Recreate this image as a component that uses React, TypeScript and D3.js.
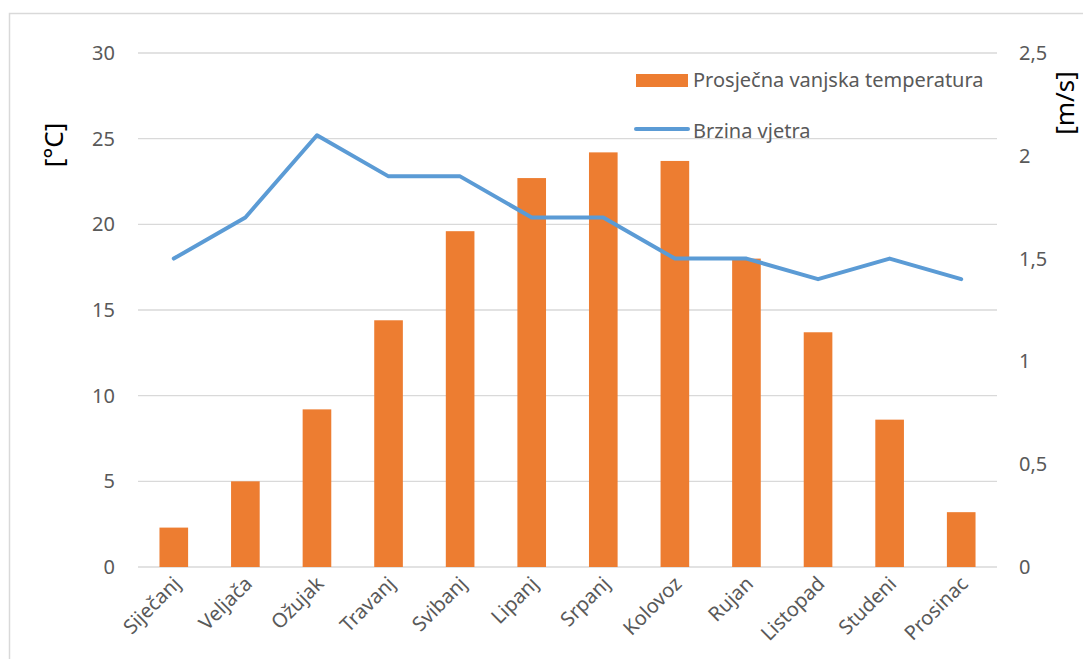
import React, { useEffect, useRef } from 'react';
import * as d3 from 'd3';

const months = ['Siječanj', 'Veljača', 'Ožujak', 'Travanj', 'Svibanj', 'Lipanj', 'Srpanj', 'Kolovoz', 'Rujan', 'Listopad', 'Studeni', 'Prosinac'];
const temperature = [2.3, 5.0, 9.2, 14.4, 19.6, 22.7, 24.2, 23.7, 18.0, 13.7, 8.6, 3.2];
const windSpeed = [1.5, 1.7, 2.1, 1.9, 1.9, 1.7, 1.7, 1.5, 1.5, 1.4, 1.5, 1.4];
const leftTicks = [0, 5, 10, 15, 20, 25, 30];
const rightTicks = [0, 0.5, 1, 1.5, 2, 2.5];

const App = () => {
    const ref = useRef<SVGSVGElement>(null);

    useEffect(() => {
        if (!ref.current) return;
        const width = 1083, height = 659;
        const plot = { left: 138, right: 997, top: 53, bottom: 567 };
        const font = "'Noto Sans', sans-serif";
        const fs = 20;

        const svg = d3.select(ref.current);
        svg.selectAll('*').remove();
        svg.attr('width', width).attr('height', height);

        svg.append('rect').attr('width', width).attr('height', height).attr('fill', '#fff');
        // chart border
        svg.append('rect')
            .attr('x', 9.5).attr('y', 13.5)
            .attr('width', width + 20).attr('height', height + 20)
            .attr('fill', 'none').attr('stroke', '#d9d9d9').attr('stroke-width', 1.5);

        const x = d3.scaleBand<string>()
            .domain(months)
            .range([plot.left, plot.right])
            .paddingInner(0.6)
            .paddingOuter(0.3);

        const yL = d3.scaleLinear().domain([0, 30]).range([plot.bottom, plot.top]);
        const yR = d3.scaleLinear().domain([0, 2.5]).range([plot.bottom, plot.top]);

        // gridlines
        svg.append('g').selectAll('line')
            .data(leftTicks)
            .enter().append('line')
            .attr('x1', plot.left).attr('x2', plot.right)
            .attr('y1', d => yL(d)).attr('y2', d => yL(d))
            .attr('stroke', '#d9d9d9').attr('stroke-width', 1.3);

        // left tick labels
        svg.append('g').selectAll('text')
            .data(leftTicks)
            .enter().append('text')
            .attr('x', 115).attr('y', d => yL(d))
            .attr('dy', '0.35em')
            .attr('text-anchor', 'end')
            .attr('font-family', font).attr('font-size', fs).attr('fill', '#595959')
            .text(d => d);

        // right tick labels
        svg.append('g').selectAll('text')
            .data(rightTicks)
            .enter().append('text')
            .attr('x', 1019).attr('y', d => yR(d))
            .attr('dy', '0.35em')
            .attr('text-anchor', 'start')
            .attr('font-family', font).attr('font-size', fs).attr('fill', '#595959')
            .text(d => String(d).replace('.', ','));

        // axis titles
        svg.append('text')
            .attr('transform', 'translate(63,145) rotate(-90)')
            .attr('text-anchor', 'middle')
            .attr('font-family', font).attr('font-size', 26).attr('fill', '#000')
            .text('[°C]');

        svg.append('text')
            .attr('transform', 'translate(1074,103) rotate(-90)')
            .attr('text-anchor', 'middle')
            .attr('font-family', font).attr('font-size', 26).attr('fill', '#000')
            .text('[m/s]');

        // bars
        svg.append('g').selectAll('rect')
            .data(temperature)
            .enter().append('rect')
            .attr('x', (d, i) => x(months[i])!)
            .attr('y', d => yL(d))
            .attr('width', x.bandwidth())
            .attr('height', d => plot.bottom - yL(d))
            .attr('fill', '#ED7D31');

        // wind line
        const line = d3.line<number>()
            .x((d, i) => x(months[i])! + x.bandwidth() / 2)
            .y(d => yR(d));

        svg.append('path')
            .datum(windSpeed)
            .attr('d', line)
            .attr('fill', 'none')
            .attr('stroke', '#5B9BD5')
            .attr('stroke-width', 4)
            .attr('stroke-linecap', 'round')
            .attr('stroke-linejoin', 'round');

        // month labels
        svg.append('g').selectAll('text')
            .data(months)
            .enter().append('text')
            .attr('transform', d => `translate(${x(d)! + x.bandwidth() / 2 + 8},${585}) rotate(-45)`)
            .attr('text-anchor', 'end')
            .attr('font-family', font).attr('font-size', fs).attr('fill', '#595959')
            .text(d => d);

        // legend
        const legend = svg.append('g');
        legend.append('rect')
            .attr('x', 636).attr('y', 74).attr('width', 52).attr('height', 13)
            .attr('fill', '#ED7D31');
        legend.append('text')
            .attr('x', 693).attr('y', 87)
            .attr('font-family', font).attr('font-size', fs).attr('fill', '#595959')
            .text('Prosječna vanjska temperatura');
        legend.append('line')
            .attr('x1', 636).attr('x2', 688).attr('y1', 129).attr('y2', 129)
            .attr('stroke', '#5B9BD5').attr('stroke-width', 4).attr('stroke-linecap', 'round');
        legend.append('text')
            .attr('x', 693).attr('y', 138)
            .attr('font-family', font).attr('font-size', fs).attr('fill', '#595959')
            .text('Brzina vjetra');
    }, []);

    return <svg ref={ref} style={{ position: 'absolute', left: 0, top: 0 }} />;
};

export default App;
